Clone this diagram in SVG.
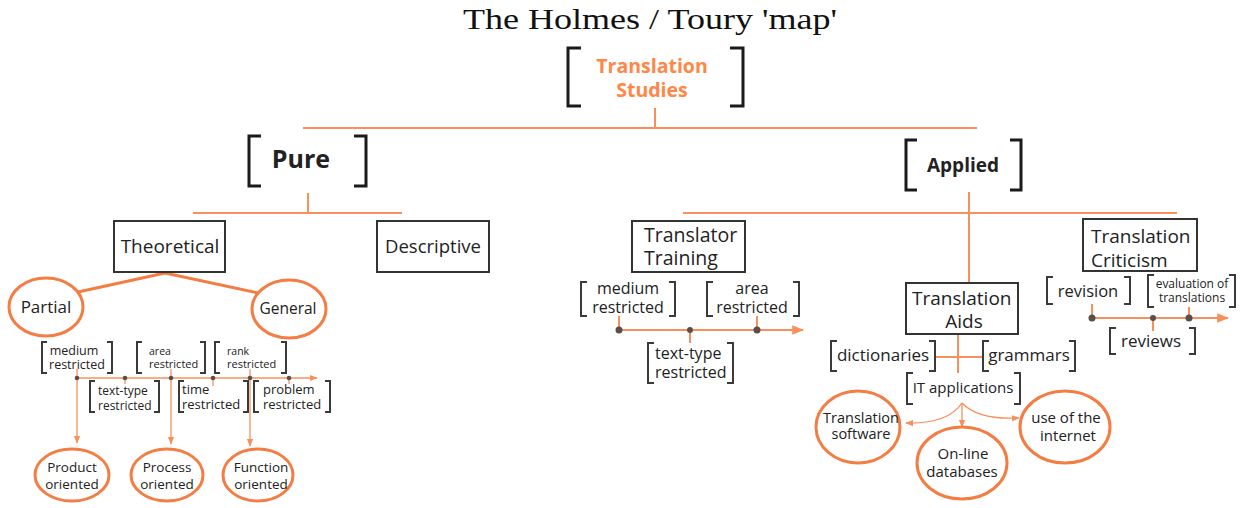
<svg xmlns="http://www.w3.org/2000/svg" width="1243" height="508" viewBox="0 0 1243 508">
<defs>
<style>
.t{font-family:"Open Sans","Noto Sans","Liberation Sans",sans-serif;fill:#222;}
.b{font-weight:bold;}
.or{fill:#FF8747;}
.ln{stroke:#F8905C;stroke-width:2;fill:none;}
.thin{stroke:#F8905C;stroke-width:1.3;fill:none;}
.brk{stroke:#1a1a1a;stroke-width:3;fill:none;}
.sb{stroke:#3a3a3a;stroke-width:2;fill:none;}
.box{stroke:#333;stroke-width:2;fill:#fff;}
.ell{stroke:#F47D43;stroke-width:3;fill:#fff;}
.dot{fill:#5a4e48;}
</style>
<marker id="ah" viewBox="0 0 10 10" refX="9" refY="5" markerWidth="6" markerHeight="6" orient="auto">
<path d="M0,1 L10,5 L0,9 z" fill="#F8905C"/>
</marker>
</defs>
<rect width="1243" height="508" fill="#fff"/>

<text x="650" y="29" font-family="'Liberation Serif','Times New Roman',serif" font-size="30" fill="#111" text-anchor="middle" textLength="374" lengthAdjust="spacingAndGlyphs">The Holmes / Toury 'map'</text>

<g id="connectors">
<path class="ln" d="M655,108 V128 M303,128 H977"/>
<path class="ln" d="M308,193 V213 M193,213 H402"/>
<path class="ln" d="M969,192 V283 M683,213 H1177"/>
<path d="M165,273 L78,292 M165,273 L258,293" stroke="#F47D43" stroke-width="3" fill="none"/>
<path class="thin" d="M77,378 H317" marker-end="url(#ah)"/>
<path class="thin" d="M77,369 V378 M171,369 V378 M250,369 V378 M125,378 V384 M213,378 V386 M289,378 V384"/>
<path class="thin" d="M77,378 V443" marker-end="url(#ah)"/>
<path class="thin" d="M171,378 V444" marker-end="url(#ah)"/>
<path class="thin" d="M250,378 V446" marker-end="url(#ah)"/>
<path class="ln" d="M619,330 H803" marker-end="url(#ah)"/>
<path class="ln" d="M619,316 V330 M757,316 V330 M690,330 V343"/>
<path class="ln" d="M1092,318 H1228" marker-end="url(#ah)"/>
<path class="ln" d="M1092,304 V318 M1189,307 V318 M1153,318 V331"/>
<path class="ln" d="M958,334 V373 M935,357 H983"/>
<path class="thin" d="M962,403 Q948,424 906,423" marker-end="url(#ah)"/>
<path class="thin" d="M962,403 V427" marker-end="url(#ah)"/>
<path class="thin" d="M962,403 Q978,420 1019,418" marker-end="url(#ah)"/>
<g>
<circle class="dot" cx="77" cy="378" r="2.3"/><circle class="dot" cx="125" cy="378" r="2.3"/><circle class="dot" cx="171" cy="378" r="2.3"/><circle class="dot" cx="213" cy="378" r="2.3"/><circle class="dot" cx="250" cy="378" r="2.3"/><circle class="dot" cx="289" cy="378" r="2.3"/>
<circle class="dot" cx="619" cy="330" r="3.5"/><circle class="dot" cx="690" cy="330" r="3"/><circle class="dot" cx="757" cy="330" r="3.5"/>
<circle class="dot" cx="1092" cy="318" r="3.5"/><circle class="dot" cx="1153" cy="318" r="3"/><circle class="dot" cx="1189" cy="318" r="3.5"/>
</g>
</g>

<g id="translation-studies">
<path class="brk" d="M581,48 H568 V106 H581 M730,48 H743 V106 H730"/>
<text class="t b or" x="652" y="73" font-size="19.5" text-anchor="middle">Translation</text>
<text class="t b or" x="652" y="97" font-size="19.5" text-anchor="middle">Studies</text>
</g>

<g id="pure">
<path class="brk" d="M261,136 H249 V186 H261 M354,136 H366 V186 H354"/>
<text class="t b" x="301" y="168" font-size="25" text-anchor="middle">Pure</text>
</g>

<g id="applied">
<path class="brk" d="M917,140 H906 V190 H917 M1010,140 H1021 V190 H1010"/>
<text class="t b" x="963" y="172" font-size="19" text-anchor="middle">Applied</text>
</g>

<g id="theoretical">
<rect class="box" x="114" y="221" width="111" height="51"/>
<text class="t" x="170" y="253" font-size="19" text-anchor="middle">Theoretical</text>
</g>

<g id="descriptive">
<rect class="box" x="377" y="221" width="112" height="51"/>
<text class="t" x="433" y="253" font-size="18.5" text-anchor="middle">Descriptive</text>
</g>

<g id="partial">
<ellipse class="ell" cx="46" cy="307" rx="37" ry="29"/>
<text class="t" x="46" y="313" font-size="17" text-anchor="middle">Partial</text>
</g>

<g id="general">
<ellipse class="ell" cx="289" cy="309" rx="37" ry="29"/>
<text class="t" x="288" y="314" font-size="15.5" text-anchor="middle">General</text>
</g>

<g id="medium-restricted-1">
<path class="sb" d="M47,342 H42 V373 H47 M107,342 H112 V373 H107"/>
<text class="t" x="74" y="355" font-size="12.5" text-anchor="middle">medium</text>
<text class="t" x="77" y="369" font-size="12.5" text-anchor="middle">restricted</text>
</g>

<g id="area-restricted-1">
<path class="sb" d="M142,342 H137 V373 H142 M200,342 H205 V373 H200"/>
<text class="t" x="149" y="355" font-size="10.5">area</text>
<text class="t" x="149" y="368" font-size="11">restricted</text>
</g>

<g id="rank-restricted">
<path class="sb" d="M220,342 H215 V373 H220 M281,342 H286 V373 H281"/>
<text class="t" x="227" y="355" font-size="10.5">rank</text>
<text class="t" x="227" y="368" font-size="11">restricted</text>
</g>

<g id="text-type-restricted-1">
<path class="sb" d="M95,381 H90 V412 H95 M154,381 H159 V412 H154"/>
<text class="t" x="98" y="395" font-size="12">text-type</text>
<text class="t" x="98" y="410" font-size="12">restricted</text>
</g>

<g id="time-restricted">
<path class="sb" d="M184,381 H179 V412 H184 M243,381 H248 V412 H243"/>
<text class="t" x="182" y="394" font-size="13">time</text>
<text class="t" x="182" y="409" font-size="13">restricted</text>
</g>

<g id="problem-restricted">
<path class="sb" d="M259,381 H254 V412 H259 M325,381 H330 V412 H325"/>
<text class="t" x="263" y="394" font-size="13">problem</text>
<text class="t" x="263" y="409" font-size="13">restricted</text>
</g>

<g id="product-oriented">
<ellipse class="ell" cx="72" cy="475" rx="37" ry="26"/>
<text class="t" x="72" y="472" font-size="13.5" text-anchor="middle">Product</text>
<text class="t" x="72" y="489" font-size="13.5" text-anchor="middle">oriented</text>
</g>

<g id="process-oriented">
<ellipse class="ell" cx="167" cy="475" rx="36" ry="26"/>
<text class="t" x="167" y="472" font-size="13.5" text-anchor="middle">Process</text>
<text class="t" x="167" y="489" font-size="13.5" text-anchor="middle">oriented</text>
</g>

<g id="function-oriented">
<ellipse class="ell" cx="258" cy="475" rx="35" ry="26"/>
<text class="t" x="261" y="472" font-size="13.5" text-anchor="middle">Function</text>
<text class="t" x="261" y="489" font-size="13.5" text-anchor="middle">oriented</text>
</g>

<g id="translator-training">
<rect class="box" x="632" y="221" width="113" height="51"/>
<text class="t" x="644" y="242" font-size="19.5">Translator</text>
<text class="t" x="644" y="265" font-size="19.5">Training</text>
</g>

<g id="medium-restricted-2">
<path class="sb" d="M587,282 H581 V316 H587 M669,282 H675 V316 H669"/>
<text class="t" x="628" y="294" font-size="16" text-anchor="middle">medium</text>
<text class="t" x="628" y="313" font-size="16" text-anchor="middle">restricted</text>
</g>

<g id="area-restricted-2">
<path class="sb" d="M713,282 H707 V316 H713 M793,282 H799 V316 H793"/>
<text class="t" x="752" y="294" font-size="16" text-anchor="middle">area</text>
<text class="t" x="752" y="313" font-size="16" text-anchor="middle">restricted</text>
</g>

<g id="text-type-restricted-2">
<path class="sb" d="M654,343 H648 V383 H654 M727,343 H733 V383 H727"/>
<text class="t" x="655" y="359" font-size="16">text-type</text>
<text class="t" x="655" y="378" font-size="16">restricted</text>
</g>

<g id="translation-aids">
<rect class="box" x="906" y="283" width="112" height="51"/>
<text class="t" x="912" y="305" font-size="19">Translation</text>
<text class="t" x="964" y="328" font-size="19" text-anchor="middle">Aids</text>
</g>

<g id="dictionaries">
<path class="sb" d="M837,341 H831 V371 H837 M929,341 H935 V371 H929"/>
<text class="t" x="883" y="361" font-size="17" text-anchor="middle">dictionaries</text>
</g>

<g id="grammars">
<path class="sb" d="M989,341 H983 V371 H989 M1069,341 H1075 V371 H1069"/>
<text class="t" x="1029" y="361" font-size="17" text-anchor="middle">grammars</text>
</g>

<g id="it-applications">
<path class="sb" d="M913,373 H907 V404 H913 M1014,373 H1020 V404 H1014"/>
<text class="t" x="963" y="393" font-size="15" text-anchor="middle">IT applications</text>
</g>

<g id="translation-software">
<ellipse class="ell" cx="858" cy="427" rx="42" ry="36"/>
<text class="t" x="861" y="423" font-size="14.5" text-anchor="middle">Translation</text>
<text class="t" x="861" y="439" font-size="14.5" text-anchor="middle">software</text>
</g>

<g id="online-databases">
<ellipse class="ell" cx="962" cy="463" rx="45" ry="36"/>
<text class="t" x="963" y="459" font-size="15" text-anchor="middle">On-line</text>
<text class="t" x="962" y="477" font-size="15" text-anchor="middle">databases</text>
</g>

<g id="use-of-the-internet">
<ellipse class="ell" cx="1065" cy="427" rx="45" ry="36"/>
<text class="t" x="1066" y="423" font-size="15" text-anchor="middle">use of the</text>
<text class="t" x="1068" y="441" font-size="15" text-anchor="middle">internet</text>
</g>

<g id="translation-criticism">
<rect class="box" x="1083" y="219" width="114" height="52"/>
<text class="t" x="1091" y="243" font-size="19">Translation</text>
<text class="t" x="1091" y="267" font-size="19">Criticism</text>
</g>

<g id="revision">
<path class="sb" d="M1053,277 H1047 V304 H1053 M1124,277 H1130 V304 H1124"/>
<text class="t" x="1088" y="297" font-size="16.5" text-anchor="middle">revision</text>
</g>

<g id="evaluation-of-translations">
<path class="sb" d="M1154,275 H1148 V307 H1154 M1229,275 H1235 V307 H1229"/>
<text class="t" x="1192" y="288" font-size="12" text-anchor="middle">evaluation of</text>
<text class="t" x="1192" y="302" font-size="12" text-anchor="middle">translations</text>
</g>

<g id="reviews">
<path class="sb" d="M1116,328 H1110 V354 H1116 M1189,328 H1195 V354 H1189"/>
<text class="t" x="1151" y="347" font-size="17" text-anchor="middle">reviews</text>
</g>
</svg>
